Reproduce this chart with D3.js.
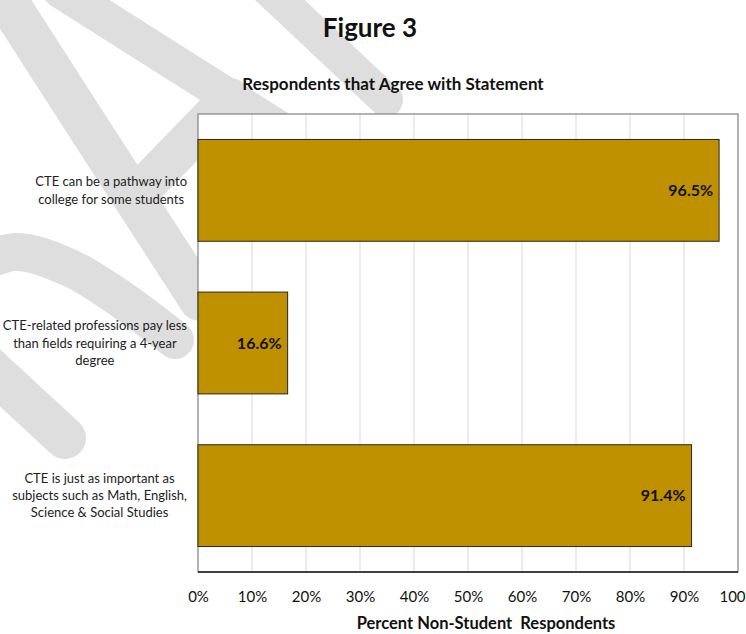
<!DOCTYPE html>
<html>
<head>
<meta charset="utf-8">
<script src="https://cdn.jsdelivr.net/npm/d3@7"></script>
<style>
  html, body { margin: 0; padding: 0; background: #fff; }
  svg { display: block; font-family: Lato, "Open Sans", sans-serif; }
</style>
</head>
<body>
<svg id="chart" width="746" height="634"></svg>
<script>
// Survey statements (top to bottom) and the share of non-student respondents agreeing
const categories = [
  "CTE can be a pathway into college for some students",
  "CTE-related professions pay less than fields requiring a 4-year degree",
  "CTE is just as important as subjects such as Math, English, Science & Social Studies"
];
const categoryLines = [
  ["CTE can be a pathway into", "college for some students"],
  ["CTE-related professions pay less", "than fields requiring a 4-year", "degree"],
  ["CTE is just as important as", "subjects such as Math, English,", "Science & Social Studies"]
];
const values = [96.5, 16.6, 91.4];
const tickValues = [0, 10, 20, 30, 40, 50, 60, 70, 80, 90, 100];
const tickLabels = ["0%", "10%", "20%", "30%", "40%", "50%", "60%", "70%", "80%", "90%", "100%"];

const figureTitle = "Figure 3";
const chartTitle = "Respondents that Agree with Statement";
const xAxisTitle = "Percent Non-Student  Respondents";

const W = 746, H = 634;
const plot = { left: 198, right: 738, top: 114, bottom: 572 };

const svg = d3.select("#chart");

// Light grey backdrop strokes behind the page
const bg = svg.append("g").attr("fill", "none").attr("stroke", "#dedede")
  .attr("stroke-linecap", "round").attr("stroke-linejoin", "round");
const strokes = [
  { pts: [[0, -10], [90, 130], [200, 300]], w: 42, curve: d3.curveLinear },
  { pts: [[60, -10], [300, 142]], w: 36, curve: d3.curveLinear },
  { pts: [[265, -14], [386, 100]], w: 34, curve: d3.curveLinear },
  { pts: [[135, 196], [230, 98]], w: 40, curve: d3.curveLinear },
  { pts: [[-30, 268], [15, 252], [70, 268], [125, 302], [175, 340]], w: 38, curve: d3.curveCatmullRom },
  { pts: [[-30, 350], [65, 438]], w: 42, curve: d3.curveLinear }
];
strokes.forEach(s => {
  bg.append("path")
    .attr("d", d3.line().curve(s.curve)(s.pts))
    .attr("stroke-width", s.w);
});

// Scales
const x = d3.scaleLinear().domain([0, 100]).range([plot.left, plot.right]);
const y = d3.scaleBand().domain(categories).range([plot.top, plot.bottom])
  .paddingInner(0.333).paddingOuter(0.1667);

// Plot area
svg.append("rect")
  .attr("x", plot.left).attr("y", plot.top)
  .attr("width", plot.right - plot.left).attr("height", plot.bottom - plot.top)
  .attr("fill", "#fff");

// Vertical gridlines
svg.append("g").selectAll("line")
  .data(tickValues.slice(1, -1))
  .join("line")
  .attr("x1", d => x(d)).attr("x2", d => x(d))
  .attr("y1", plot.top).attr("y2", plot.bottom)
  .attr("stroke", "#d9d9d9").attr("stroke-width", 1);

// Frame
svg.append("rect")
  .attr("x", plot.left).attr("y", plot.top)
  .attr("width", plot.right - plot.left).attr("height", plot.bottom - plot.top)
  .attr("fill", "none").attr("stroke", "#808080").attr("stroke-width", 1.2);

// Bars
svg.append("g").selectAll("rect")
  .data(values.map((v, i) => ({ cat: categories[i], v })))
  .join("rect")
  .attr("x", x(0))
  .attr("y", d => y(d.cat))
  .attr("width", d => x(d.v) - x(0))
  .attr("height", y.bandwidth())
  .attr("fill", "#bf9000")
  .attr("stroke", "#262626").attr("stroke-width", 1);

// Bottom axis line
svg.append("line")
  .attr("x1", plot.left).attr("x2", plot.right)
  .attr("y1", plot.bottom).attr("y2", plot.bottom)
  .attr("stroke", "#1a1a1a").attr("stroke-width", 1.4);

// Value labels at the inside end of each bar
svg.append("g").selectAll("text")
  .data(values.map((v, i) => ({ cat: categories[i], v })))
  .join("text")
  .attr("x", d => x(d.v) - 6)
  .attr("y", d => y(d.cat) + y.bandwidth() / 2)
  .attr("dy", "0.36em")
  .attr("text-anchor", "end")
  .attr("font-size", 16).attr("font-weight", 700).attr("fill", "#111")
  .text(d => d.v.toFixed(1) + "%");

// X axis tick labels
const xAxis = d3.axisBottom(x)
  .tickValues(tickValues)
  .tickFormat((d, i) => tickLabels[i])
  .tickSize(0).tickPadding(0);
const gx = svg.append("g")
  .attr("transform", `translate(0, ${plot.bottom + 30})`)
  .call(xAxis);
gx.select(".domain").remove();
gx.selectAll("text")
  .attr("font-family", 'Lato, "Open Sans", sans-serif')
  .attr("font-size", 15).attr("fill", "#111").attr("dy", 0);

// Category labels: wrapped lines, centred as a block whose right edge sits left of the plot
const labelRight = 187;
const lineH = 17.3;
categoryLines.forEach((lines, i) => {
  const cy = y(categories[i]) + y.bandwidth() / 2;
  const t = svg.append("text")
    .attr("text-anchor", "middle")
    .attr("font-size", 13).attr("fill", "#222");
  const spans = lines.map((ln, j) =>
    t.append("tspan")
      .attr("y", cy + (j - (lines.length - 1) / 2) * lineH)
      .attr("dy", "0.35em")
      .text(ln));
  const maxW = d3.max(spans, s => s.node().getComputedTextLength());
  spans.forEach(s => s.attr("x", labelRight - maxW / 2));
});

// Titles
svg.append("text")
  .attr("x", 370).attr("y", 37)
  .attr("text-anchor", "middle")
  .attr("font-size", 26).attr("font-weight", 700).attr("fill", "#111")
  .text(figureTitle);

svg.append("text")
  .attr("x", 393).attr("y", 90)
  .attr("text-anchor", "middle")
  .attr("font-size", 17).attr("font-weight", 700).attr("fill", "#111")
  .text(chartTitle);

svg.append("text")
  .attr("x", 486).attr("y", 629)
  .attr("text-anchor", "middle")
  .attr("font-size", 16.5).attr("font-weight", 700).attr("fill", "#111")
  .attr("xml:space", "preserve").style("white-space", "pre")
  .text(xAxisTitle);
</script>
</body>
</html>
